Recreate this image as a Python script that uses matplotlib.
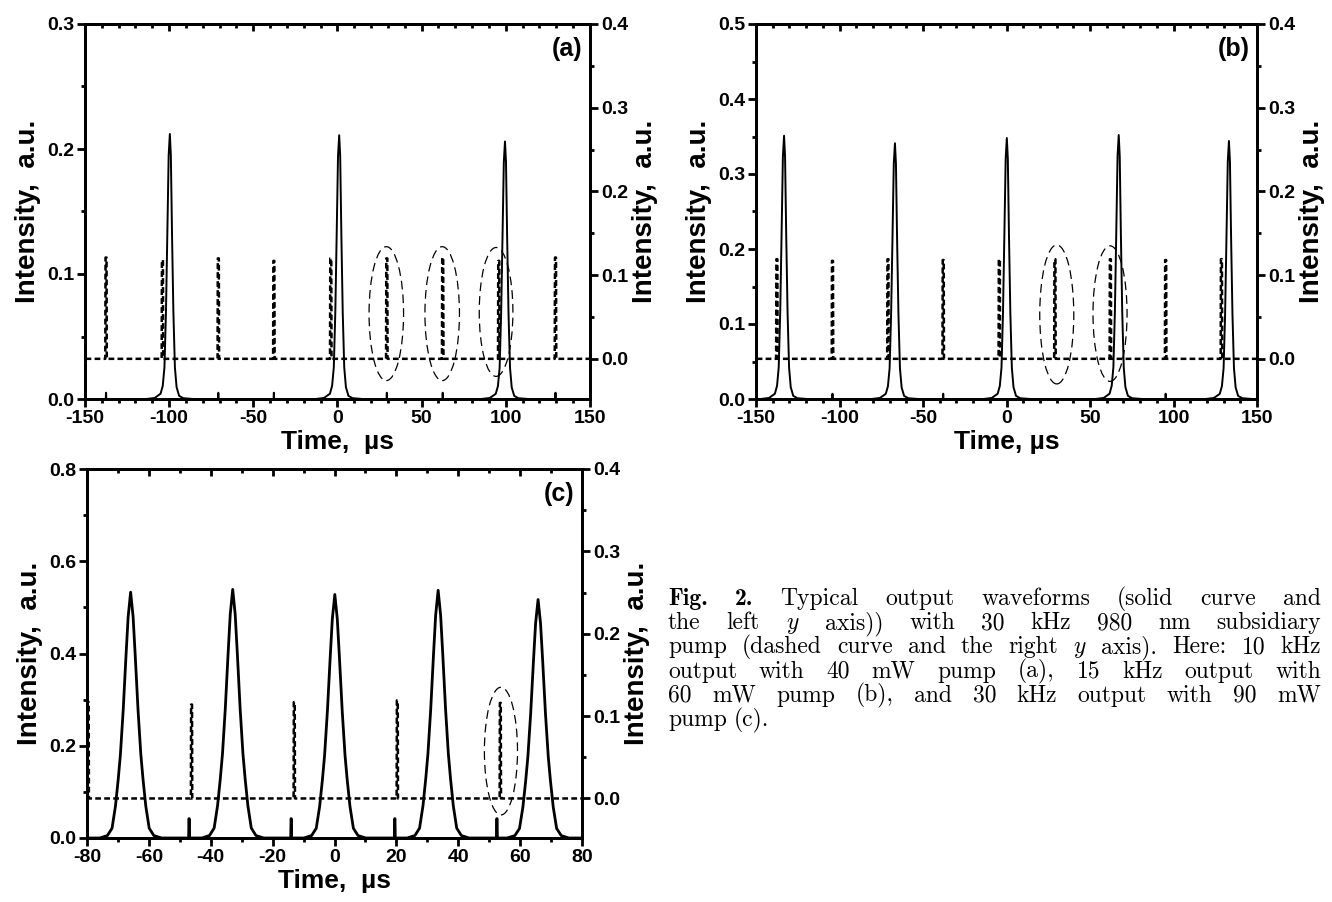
import numpy as np
import matplotlib
matplotlib.use('Agg')
import matplotlib.pyplot as plt
from matplotlib.patches import Ellipse
from matplotlib.ticker import MultipleLocator, FormatStrFormatter, NullFormatter

plt.rcParams['font.family'] = ['Liberation Sans', 'DejaVu Sans']
plt.rcParams['font.weight'] = 'bold'
plt.rcParams['axes.labelweight'] = 'bold'
plt.rcParams['axes.unicode_minus'] = False
plt.rcParams['mathtext.fontset'] = 'cm'

# ---- data ----
# pulse profile (offset in us, fraction of peak) for panels (a),(b)
ab_shape_dt = [-14, -9, -5.5, -4.2, -3.2, -2.3, -1.5, -0.7, 0, 0.6, 1.3, 2.1, 3.0, 4.0, 5.5, 8, 14]
ab_shape_f = [0, 0.004, 0.02, 0.05, 0.12, 0.33, 0.62, 0.92, 1, 0.92, 0.62, 0.33, 0.12, 0.045, 0.012, 0.003, 0]
# pulse profile for panel (c)
c_shape_dt = [-10, -7.5, -6, -4.9, -4.0, -3.3, -2.4, -1.5, -0.8, 0, 0.8, 1.5, 2.4, 3.3, 4.0, 4.9, 6, 7.5, 10]
c_shape_f = [0, 0.01, 0.04, 0.13, 0.24, 0.34, 0.52, 0.74, 0.9, 1, 0.9, 0.74, 0.52, 0.34, 0.24, 0.13, 0.04, 0.01, 0]
# pump pulse profile
pump_dt_ab = [-0.45, -0.3, 0.3, 0.45]
pump_dt_c = [-0.22, -0.15, 0.15, 0.22]
pump_f = [0, 1, 1, 0]
# small leak spike in the output trace
leak_dt = [-0.15, -0.05, 0.05, 0.15]
leak_f = [0, 1, 1, 0]

# (a) 10 kHz output, 40 mW pump
a_peak_t = [-99.6, 1.0, 99.5]
a_peak_h = [0.212, 0.211, 0.206]
a_leak_t = [-137.5, -70.8, -37.8, 29.3, 62.5, 129.5]
a_leak_h = 0.005
a_pump_t = [-137.5, -104.0, -70.8, -37.8, -4.0, 29.3, 62.5, 95.8, 129.5]
a_pump_h = [0.121, 0.118, 0.120, 0.117, 0.120, 0.120, 0.121, 0.117, 0.121]
a_ring_t = [29.0, 62.2, 94.2]
a_ring_y = [0.054, 0.054, 0.056]
a_ring_w = [20.5, 20.5, 20.0]
a_ring_h = [0.160, 0.160, 0.154]

# (b) 15 kHz output, 60 mW pump
b_peak_t = [-133.2, -66.8, 0.2, 67.2, 133.2]
b_peak_h = [0.351, 0.341, 0.348, 0.352, 0.344]
b_leak_t = [-104.2, -37.9, 95.3]
b_leak_h = 0.007
b_pump_t = [-137.5, -104.2, -71.0, -37.9, -4.3, 29.0, 62.2, 95.3, 128.7]
b_pump_h = [0.119, 0.117, 0.119, 0.118, 0.119, 0.119, 0.119, 0.118, 0.119]
b_ring_t = [30.1, 62.0]
b_ring_y = [0.053, 0.054]
b_ring_w = [20.4, 20.4]
b_ring_h = [0.166, 0.162]

# (c) 30 kHz output, 90 mW pump
c_peak_t = [-65.9, -32.9, 0.1, 33.5, 65.8]
c_peak_h = [0.533, 0.539, 0.528, 0.537, 0.517]
c_leak_t = [-47.0, -14.0, 19.5, 52.5]
c_leak_h = 0.042
c_pump_t = [-79.6, -46.2, -13.0, 20.3, 53.6]
c_pump_h = [0.117, 0.114, 0.117, 0.119, 0.116]
c_ring_t = [53.8]
c_ring_y = [0.0575]
c_ring_w = [10.7]
c_ring_h = [0.155]

caption_lines = [
    [("Fig.", True), ("2.", True), "Typical", "output", "waveforms", "(solid", "curve", "and"],
    "the left $y$ axis)) with 30 kHz 980 nm subsidiary".split(),
    "pump (dashed curve and the right $y$ axis). Here: 10 kHz".split(),
    "output with 40 mW pump (a), 15 kHz output with".split(),
    "60 mW pump (b), and 30 kHz output with 90 mW".split(),
    "pump (c).".split(),
]


def trace(xlim, centers, heights, dt, frac):
    segs = [(np.add(t, d), np.multiply(h, f))
            for t, h, d, f in zip(centers, heights, dt, frac)]
    segs.sort(key=lambda s: s[0][0])
    xs, ys = [xlim[0] - 5], [0.0]
    for sx, sy in segs:
        xs.extend(sx)
        ys.extend(sy)
    xs.append(xlim[1] + 5)
    ys.append(0.0)
    return xs, ys


fig = plt.figure(figsize=(13.32, 9.02), dpi=100)


def panel(rect, tag, xlim, xmaj, lylim, lmaj, lmin, xlabel, lw,
          peak_t, peak_h, shape_dt, shape_f, leak_t, leak_h,
          pump_t, pump_h, pump_dt, ring_t, ring_y, ring_w, ring_h):
    ax = fig.add_axes(rect)
    # output trace: pulses plus small leak spikes
    n, m = len(peak_t), len(leak_t)
    xs, ys = trace(xlim, list(peak_t) + list(leak_t),
                   list(peak_h) + [leak_h] * m,
                   [shape_dt] * n + [leak_dt] * m,
                   [shape_f] * n + [leak_f] * m)
    ax.plot(xs, ys, color='black', lw=lw)
    ax.set_xlim(xlim)
    ax.set_ylim(lylim)
    ax.xaxis.set_major_locator(MultipleLocator(xmaj))
    ax.xaxis.set_minor_locator(MultipleLocator(10))
    ax.yaxis.set_major_locator(MultipleLocator(lmaj))
    ax.yaxis.set_minor_locator(MultipleLocator(lmin))
    ax.yaxis.set_major_formatter(FormatStrFormatter('%.1f'))
    ax.tick_params(which='major', direction='out', length=6, width=2, labelsize=14, pad=2)
    ax.tick_params(which='minor', direction='out', length=3, width=2)
    ax.set_xlabel(xlabel, fontsize=19, labelpad=2)
    ax.set_ylabel("Intensity,  a.u.", fontsize=20, labelpad=4)

    top = ax.secondary_xaxis('top')
    top.xaxis.set_major_locator(MultipleLocator(xmaj))
    top.xaxis.set_minor_locator(MultipleLocator(10))
    top.xaxis.set_major_formatter(NullFormatter())
    top.tick_params(which='major', direction='in', length=5, width=2)
    top.tick_params(which='minor', direction='in', length=3, width=2)
    top.spines['top'].set_linewidth(2)

    ax2 = ax.twinx()
    k = len(pump_t)
    px, py = trace(xlim, pump_t, pump_h, [pump_dt] * k, [pump_f] * k)
    ax2.plot(px, py, color='black', lw=1.8, ls=(0, (2.3, 1.3)))
    for t, y, w, h in zip(ring_t, ring_y, ring_w, ring_h):
        ax2.add_patch(Ellipse((t, y), w, h, fill=False, ec='black', lw=0.9, ls=(0, (7, 4))))
    ax2.set_ylim(-0.048, 0.4)
    ax2.yaxis.set_major_locator(MultipleLocator(0.1))
    ax2.yaxis.set_minor_locator(MultipleLocator(0.05))
    ax2.yaxis.set_major_formatter(FormatStrFormatter('%.1f'))
    ax2.tick_params(which='major', direction='out', length=6, width=2, labelsize=14, pad=2)
    ax2.tick_params(which='minor', direction='out', length=3, width=2)
    ax2.set_ylabel("Intensity,  a.u.", fontsize=20, labelpad=3)
    for a in (ax, ax2):
        for s in a.spines.values():
            s.set_linewidth(2)
    ax.text(0.985, 0.965, tag, transform=ax.transAxes, ha='right', va='top', fontsize=18)
    return ax


panel([85 / 1332, 1 - 399 / 902, 505 / 1332, 375 / 902], "(a)", (-150, 150), 50,
      (0, 0.3), 0.1, 0.05, "Time,  µs", 1.4,
      a_peak_t, a_peak_h, ab_shape_dt, ab_shape_f, a_leak_t, a_leak_h,
      a_pump_t, a_pump_h, pump_dt_ab, a_ring_t, a_ring_y, a_ring_w, a_ring_h)
panel([756 / 1332, 1 - 399 / 902, 501 / 1332, 375 / 902], "(b)", (-150, 150), 50,
      (0, 0.5), 0.1, 0.05, "Time, µs", 1.4,
      b_peak_t, b_peak_h, ab_shape_dt, ab_shape_f, b_leak_t, b_leak_h,
      b_pump_t, b_pump_h, pump_dt_ab, b_ring_t, b_ring_y, b_ring_w, b_ring_h)
panel([87 / 1332, 1 - 838 / 902, 495 / 1332, 369 / 902], "(c)", (-80, 80), 20,
      (0, 0.8), 0.2, 0.1, "Time,  µs", 2.0,
      c_peak_t, c_peak_h, c_shape_dt, c_shape_f, c_leak_t, c_leak_h,
      c_pump_t, c_pump_h, pump_dt_c, c_ring_t, c_ring_y, c_ring_w, c_ring_h)

# caption, justified word by word
W, H = 1332, 902
x_left, x_right = 668, 1321
baseline0, lead = 605, 24.2
renderer = fig.canvas.get_renderer()
for i, line in enumerate(caption_lines):
    y = 1 - (baseline0 + i * lead) / H
    texts = []
    for w in line:
        bold = isinstance(w, tuple)
        word = w[0] if bold else w
        t = fig.text(0, y, word, fontsize=17, va='baseline', ha='left',
                     family='cmb10' if bold else 'cmr10', fontweight='normal')
        texts.append(t)
    widths = [t.get_window_extent(renderer).width for t in texts]
    if i == len(caption_lines) - 1:
        gap = 7
    else:
        gap = (x_right - x_left - sum(widths)) / (len(texts) - 1)
    x = x_left
    for t, wd in zip(texts, widths):
        t.set_x(x / W)
        x += wd + gap

fig.savefig("out.png", dpi=100)
